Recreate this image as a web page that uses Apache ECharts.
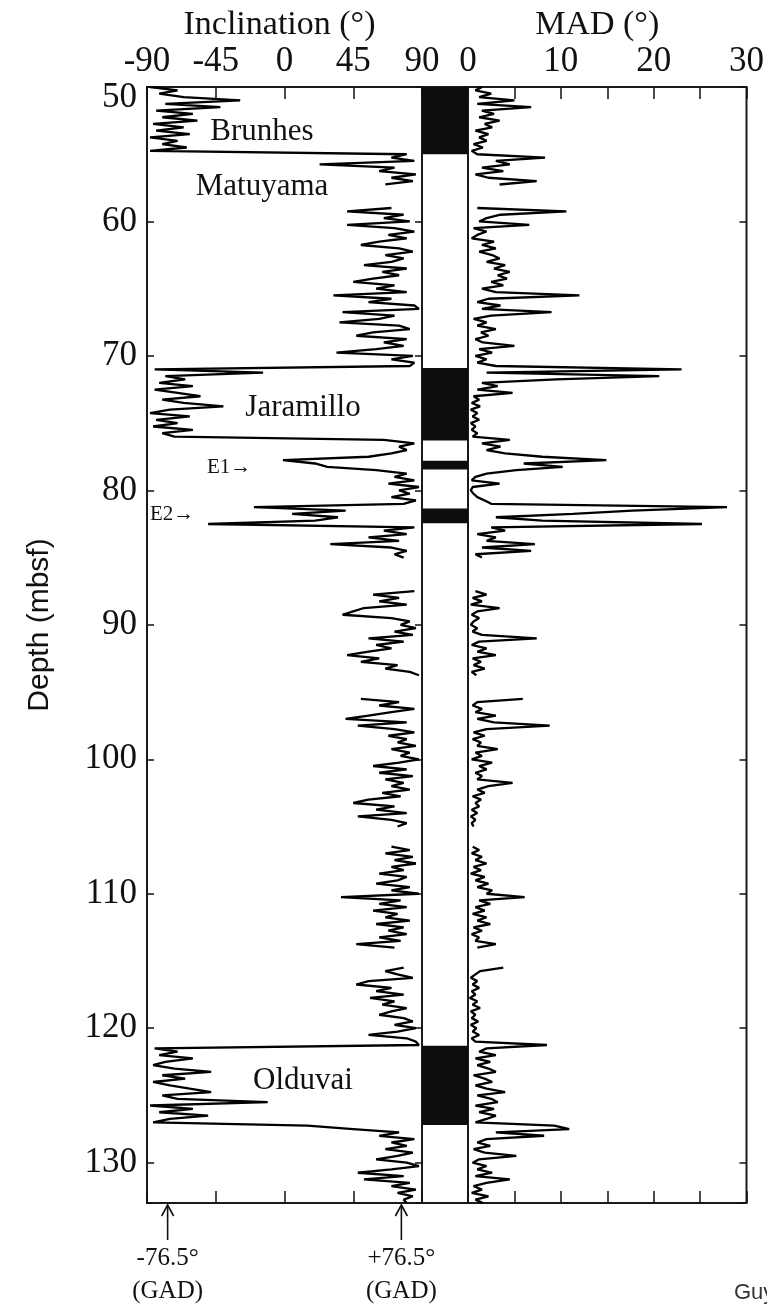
<!DOCTYPE html>
<html><head><meta charset="utf-8">
<script src="https://cdn.jsdelivr.net/npm/echarts@6/dist/echarts.min.js"></script>
<style>html,body{margin:0;padding:0;background:#fff}#c{width:767px;height:1305px}</style>
</head><body><div id="c"></div>
<script>
// ---------------- data ----------------
const depthStart = 50;      // mbsf, first sample
const depthStep = 0.25;     // sampling interval (m)
// Inclination (deg), one value per depth sample, null = no data
const inclination = [
-88,-70,-82,-66, // 50
-29,-78,-42,-84, // 51
-60,-80,-57,-86, // 52
-66,-84,-62,-88, // 53
-70,-80,-64,-88, // 54
80,70,85,23,     // 55
72,62,86,70,     // 56
84,66,null,null, // 57
null,null,null,null, // 58
70,41,78,65,     // 59
82,41,72,85,     // 60
68,80,62,50,     // 61
75,84,66,78,     // 62
70,52,80,64,     // 63
75,58,45,72,     // 64
60,80,32,70,     // 65
55,85,88,38,     // 66
72,62,36,75,     // 67
82,58,47,80,     // 68
65,78,60,34,     // 69
84,70,85,82,     // 70
-85,-14,-78,-65, // 71
-82,-60,-85,-70, // 72
-55,-80,-66,-40, // 73
-75,-88,-62,-84, // 74
-70,-86,-60,-80, // 75
-72,65,85,75,    // 76
80,70,55,-1,     // 77
20,28,60,80,     // 78
72,85,68,88,     // 79
75,82,70,86,     // 80
78,-20,40,5,     // 81
35,20,-50,85,    // 82
65,80,55,75,     // 83
30,70,80,72,     // 84
78,null,null,null, // 85
null,null,null,null, // 86
null,null,85,58, // 87
75,62,80,52,     // 88
45,38,70,82,     // 89
76,86,72,84,     // 90
55,78,60,70,     // 91
55,41,62,50,     // 92
74,66,82,88,     // 93
null,null,null,null, // 94
null,null,50,75, // 95
62,85,70,55,     // 96
40,80,48,72,     // 97
85,68,80,74,     // 98
86,70,82,76,     // 99
88,75,58,80,     // 100
62,84,66,78,     // 101
70,82,64,76,     // 102
55,45,72,60,     // 103
80,48,70,80,     // 104
74,null,null,null, // 105
null,null,70,82, // 106
66,84,72,86,     // 107
70,78,62,80,     // 108
74,60,82,70,     // 109
88,37,76,62,     // 110
80,58,74,66,     // 111
82,60,78,68,     // 112
80,62,76,47,     // 113
72,null,null,null, // 114
null,null,78,66, // 115
74,84,55,47,     // 116
70,60,78,56,     // 117
72,64,80,70,     // 118
62,78,84,72,     // 119
86,74,55,80,     // 120
86,88,-85,-70,   // 121
-82,-60,-78,-86, // 122
-72,-48,-80,-65, // 123
-86,-75,-62,-48, // 124
-80,-70,-11,-88, // 125
-60,-82,-50,-75, // 126
-86,15,45,75,    // 127
62,85,70,80,     // 128
66,84,74,60,     // 129
80,88,70,48,     // 130
78,52,82,70,     // 131
86,74,84,78,     // 132
80               // 133
];
// MAD (deg), same depth samples
const mad = [
1.5,0.8,2.5,1.2, // 50
5.0,1.0,6.8,1.5, // 51
2.8,1.2,3.4,1.8, // 52
2.6,0.8,2.2,1.2, // 53
2.0,0.6,1.6,0.4, // 54
1.0,8.3,3.0,4.5, // 55
1.5,3.8,0.8,2.2, // 56
7.4,3.4,null,null, // 57
null,null,null,null, // 58
1.0,10.6,3.5,2.0, // 59
1.2,6.6,0.6,2.0, // 60
1.0,0.4,2.8,1.5, // 61
3.0,1.2,2.6,3.4, // 62
2.0,4.0,2.8,4.5, // 63
3.2,4.2,2.5,3.8, // 64
1.5,3.0,12.0,2.2, // 65
1.0,3.5,1.5,9.0, // 66
2.5,0.6,2.0,1.0, // 67
3.0,1.4,2.2,0.8, // 68
1.6,5.0,1.2,2.6, // 69
0.8,2.0,1.0,3.0, // 70
23.0,2.0,20.6,9.5, // 71
1.5,3.2,1.0,4.8, // 72
0.6,1.2,0.4,1.3, // 73
0.3,1.0,0.5,1.2, // 74
0.3,0.8,0.4,1.0, // 75
0.5,4.5,1.5,3.5, // 76
2.0,4.0,8.0,14.9, // 77
6.0,10.2,5.2,2.0, // 78
0.8,0.4,3.4,0.5, // 79
0.3,0.6,1.0,1.8, // 80
2.5,27.9,17.7,11.3, // 81
3.0,8.0,25.2,2.5, // 82
4.0,1.0,3.0,2.0, // 83
7.2,1.5,6.8,0.8, // 84
1.5,null,null,null, // 85
null,null,null,null, // 86
null,null,0.8,2.0, // 87
0.5,1.5,0.3,3.4, // 88
1.0,0.4,1.2,0.6, // 89
0.3,1.0,0.5,1.5, // 90
7.4,1.2,0.4,2.0, // 91
1.0,3.0,0.5,1.4, // 92
0.6,1.8,0.4,0.9, // 93
null,null,null,null, // 94
null,null,5.9,1.0, // 95
0.5,1.5,0.8,3.0, // 96
1.0,2.8,8.8,2.0, // 97
0.6,1.8,0.5,1.4, // 98
1.0,3.2,0.8,1.5, // 99
0.4,2.6,1.2,2.0, // 100
0.8,1.5,1.0,4.8, // 101
2.2,1.0,1.8,0.5, // 102
1.4,0.8,1.2,0.4, // 103
1.0,0.3,0.8,0.4, // 104
0.6,null,null,null, // 105
null,null,0.5,1.2, // 106
0.4,1.5,0.8,2.0, // 107
0.6,1.4,0.3,1.8, // 108
0.8,2.2,1.0,2.6, // 109
2.0,6.1,1.2,2.4, // 110
0.8,1.8,0.5,2.0, // 111
1.0,2.4,0.6,1.5, // 112
0.4,1.2,0.8,3.0, // 113
1.0,null,null,null, // 114
null,null,3.8,1.3, // 115
0.8,0.3,1.0,0.5, // 116
1.2,0.4,0.8,0.2, // 117
1.0,0.5,1.3,0.3, // 118
0.8,0.4,1.1,0.3, // 119
0.9,0.5,1.2,0.4, // 120
0.8,8.5,2.0,1.2, // 121
3.0,0.8,2.4,1.0, // 122
2.2,3.0,0.6,1.8, // 123
2.6,0.8,2.0,4.0, // 124
1.0,2.5,3.2,0.8, // 125
2.8,1.2,3.0,2.0, // 126
0.8,9.3,10.9,3.0, // 127
8.2,2.0,1.0,2.4, // 128
0.6,1.8,5.2,1.2, // 129
0.5,2.0,1.0,2.6, // 130
0.8,4.5,2.0,0.6, // 131
1.5,0.4,2.2,0.8, // 132
1.6              // 133
];
// Normal-polarity intervals (black in polarity column), mbsf
const polarityTop    = [50, 70.9, 77.8, 81.35, 121.3];
const polarityBottom = [55.0, 76.3, 78.45, 82.45, 127.2];
// Axis definitions
const depthMin = 50, depthMax = 133, depthInterval = 10;
const incMin = -90, incMax = 90, incInterval = 45;
const madMin = 0, madMax = 30, madTickInterval = 5, madLabelEvery = 10;
// Annotations
const gadValues = [-76.5, 76.5];
const gadLabels = ['-76.5°', '+76.5°'];
const chronLabels = ['Brunhes', 'Matuyama', 'Jaramillo', 'Olduvai'];
const excursionLabels = ['E1→', 'E2→'];

// ---------------- chart ----------------
const SERIF = '"Liberation Serif", "Times New Roman", serif';
const SANS = '"Liberation Sans", Arial, sans-serif';
const INK = '#111';
const depths = inclination.map((_, i) => depthStart + i * depthStep);
const incData = depths.map((d, i) => [inclination[i] === null ? '-' : inclination[i], d]);
const madData = depths.map((d, i) => [mad[i] === null ? '-' : mad[i], d]);

const chart = echarts.init(document.getElementById('c'), null, {renderer: 'canvas'});
const gridTop = 87, gridH = 1116;
const gridCommon = {top: gridTop, height: gridH, show: true, borderColor: '#1a1a1a', borderWidth: 2, backgroundColor: 'transparent'};
const tickLine = {color: INK, width: 1.5};

function xTop(grid, min, max, interval, labelFmt) {
  return {gridIndex: grid, type: 'value', position: 'top', min, max, interval,
    axisLine: {show: false, onZero: false}, splitLine: {show: false},
    axisTick: {show: true, inside: true, length: 12, lineStyle: tickLine},
    axisLabel: {show: true, margin: 8, color: INK, fontFamily: SERIF, fontSize: 35, formatter: labelFmt}};
}
function xBottom(grid, min, max, interval) {
  return {gridIndex: grid, type: 'value', position: 'bottom', min, max, interval,
    axisLine: {show: false, onZero: false}, splitLine: {show: false}, axisLabel: {show: false},
    axisTick: {show: true, inside: true, length: 12, lineStyle: tickLine}};
}
function ySide(grid, pos, labels) {
  return {gridIndex: grid, type: 'value', position: pos, inverse: true,
    min: depthMin, max: depthMax, interval: depthInterval,
    axisLine: {show: false, onZero: false}, splitLine: {show: false},
    axisTick: {show: true, inside: true, length: 7, lineStyle: tickLine},
    axisLabel: labels ? {show: true, margin: 10, color: INK, fontFamily: SERIF, fontSize: 35,
      formatter: v => v % depthInterval !== 0 ? '' : (v === depthMin ? '{lo|' + v + '}' : String(v)),
      rich: {lo: {padding: [22, 0, 0, 0], fontFamily: SERIF, fontSize: 35, color: INK}}} : {show: false}};
}

chart.setOption({
  animation: false,
  backgroundColor: '#fff',
  grid: [
    Object.assign({left: 147, width: 275}, gridCommon),
    Object.assign({left: 422, width: 46}, gridCommon),
    Object.assign({left: 468, width: 280}, gridCommon)
  ],
  xAxis: [
    xTop(0, incMin, incMax, incInterval, v => String(v)),
    xBottom(0, incMin, incMax, incInterval),
    {gridIndex: 1, type: 'value', min: 0, max: 1, show: false, axisLine: {onZero: false}},
    xTop(2, madMin, madMax, madTickInterval, v => v % madLabelEvery === 0 ? String(v) : ''),
    xBottom(2, madMin, madMax, madTickInterval)
  ],
  yAxis: [
    ySide(0, 'left', true),
    ySide(0, 'right', false),
    {gridIndex: 1, type: 'value', inverse: true, min: depthMin, max: depthMax, show: false, axisLine: {onZero: false}},
    ySide(2, 'right', false)
  ],
  series: [
    {type: 'line', name: 'Inclination', xAxisIndex: 0, yAxisIndex: 0, data: incData,
     symbol: 'none', connectNulls: false, lineStyle: {color: '#000', width: 2.3}, clip: true},
    {type: 'custom', name: 'Polarity', xAxisIndex: 2, yAxisIndex: 2,
     data: polarityTop.map((t, i) => [t, polarityBottom[i]]),
     renderItem: (params, api) => {
       const a = api.coord([0, api.value(0)]);
       const b = api.coord([1, api.value(1)]);
       return {type: 'rect', shape: {x: a[0], y: a[1], width: b[0] - a[0], height: b[1] - a[1]},
               style: {fill: '#0d0d0d'}};
     }},
    {type: 'line', name: 'MAD', xAxisIndex: 3, yAxisIndex: 3, data: madData,
     symbol: 'none', connectNulls: false, lineStyle: {color: '#000', width: 2.3}, clip: true}
  ]
});

// ---------------- annotations ----------------
const els = [];
function txt(x, y, text, font, align, extra) {
  els.push(Object.assign({type: 'text', x, y, z: 10,
    style: {text, font, fill: INK, textAlign: align || 'center', align: align || 'center',
            textVerticalAlign: 'middle', verticalAlign: 'middle'}}, extra || {}));
}
const incLeft = chart.convertToPixel({xAxisIndex: 0}, incMin);
const incRight = chart.convertToPixel({xAxisIndex: 0}, incMax);
const madLeft = chart.convertToPixel({xAxisIndex: 3}, madMin);
const madRight = chart.convertToPixel({xAxisIndex: 3}, madMax);
const yBottom = chart.convertToPixel({yAxisIndex: 0}, depthMax);

txt((incLeft + incRight) / 2 - 5, 25, 'Inclination (°)', '34px ' + SERIF);
txt((madLeft + madRight) / 2 - 10, 25, 'MAD (°)', '34px ' + SERIF);
txt(40, 625, 'Depth (mbsf)', '30px ' + SANS, 'center', {rotation: Math.PI / 2});

txt(262, 132, chronLabels[0], '31px ' + SERIF);
txt(262, 187, chronLabels[1], '31px ' + SERIF);
txt(303, 408, chronLabels[2], '31px ' + SERIF);
txt(303, 1081, chronLabels[3], '31px ' + SERIF);
txt(207, 467, excursionLabels[0], '21px ' + SERIF, 'left');
txt(150, 514, excursionLabels[1], '21px ' + SERIF, 'left');

gadValues.forEach((g, i) => {
  const px = chart.convertToPixel({xAxisIndex: 1}, g);
  els.push({type: 'line', z: 10, shape: {x1: px, y1: yBottom + 37, x2: px, y2: yBottom + 2},
            style: {stroke: INK, lineWidth: 1.6}});
  els.push({type: 'polyline', z: 10, shape: {points: [[px - 6, yBottom + 13], [px, yBottom + 2], [px + 6, yBottom + 13]]},
            style: {stroke: INK, lineWidth: 1.6, fill: null}});
  txt(px, yBottom + 55, gadLabels[i], '25px ' + SERIF);
  txt(px, yBottom + 88, '(GAD)', '25px ' + SERIF);
});
els.push({type: 'text', x: 734, y: 1293, z: 10,
  style: {text: 'Guyodo et al.', font: '22px ' + SANS, fill: '#333', textVerticalAlign: 'middle', verticalAlign: 'middle'}});

chart.setOption({graphic: {elements: els}});
</script>
</body></html>
